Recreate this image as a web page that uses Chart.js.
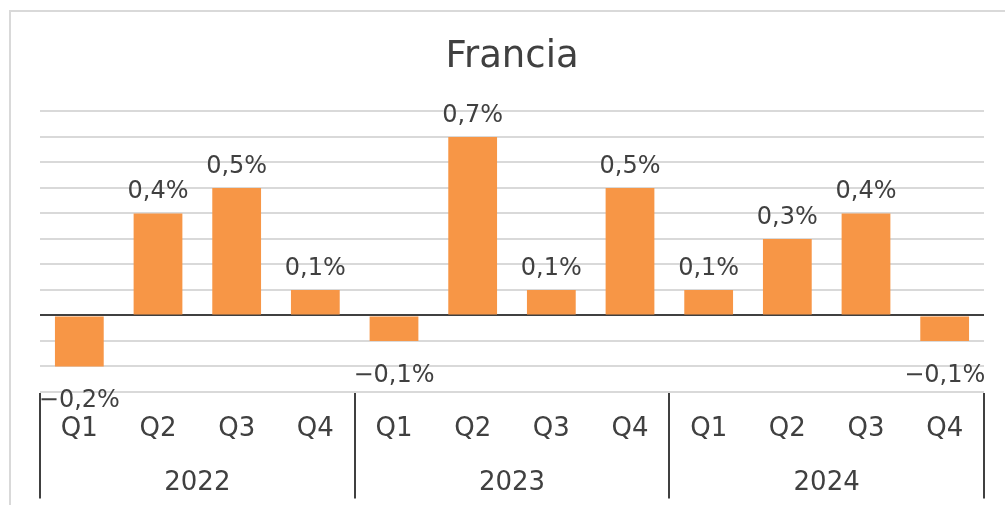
<!DOCTYPE html>
<html>
<head>
<meta charset="utf-8">
<script src="https://cdn.jsdelivr.net/npm/chart.js@4/dist/chart.umd.min.js"></script>
<style>
  html, body { margin: 0; padding: 0; background: #fff; }
  #wrap { position: relative; width: 1005px; height: 505px; overflow: hidden; }
  #frame { position: absolute; left: 9px; top: 10px; width: 1100px; height: 600px; border: 2px solid #d9d9d9; box-sizing: border-box; }
  canvas { position: absolute; left: 0; top: 0; }
</style>
</head>
<body>
<div id="wrap">
  <div id="frame"></div>
  <canvas id="c" width="1005" height="505"></canvas>
</div>
<script>
const title = 'Francia';
const quarters = ['Q1', 'Q2', 'Q3', 'Q4', 'Q1', 'Q2', 'Q3', 'Q4', 'Q1', 'Q2', 'Q3', 'Q4'];
const years = ['2022', '2023', '2024'];
const values = [-0.2, 0.4, 0.5, 0.1, -0.1, 0.7, 0.1, 0.5, 0.1, 0.3, 0.4, -0.1];
const yMin = -0.3, yMax = 0.8, yStep = 0.1;

const FONT = "'DejaVu Sans', Verdana, sans-serif";
const TEXT = '#404040';

function fmt(v) {
  const s = Math.abs(v).toFixed(1).replace('.', ',') + '%';
  return (v < 0 ? '\u2212' : '') + s;
}

const labelPlugin = {
  id: 'valueLabels',
  afterDatasetsDraw(chart) {
    const ctx = chart.ctx;
    const meta = chart.getDatasetMeta(0);
    ctx.save();
    ctx.font = '24px ' + FONT;
    ctx.fillStyle = TEXT;
    ctx.textAlign = 'center';
    ctx.textBaseline = 'alphabetic';
    meta.data.forEach((bar, i) => {
      const v = values[i];
      const y = v >= 0 ? bar.y - 15 : bar.y + 41;
      ctx.fillText(fmt(v), bar.x, y);
    });
    ctx.restore();
  }
};

const sepPlugin = {
  id: 'groupSeparators',
  afterDraw(chart) {
    const x = chart.scales.x, x2 = chart.scales.x2;
    const ctx = chart.ctx;
    const edges = [x.left];
    for (let i = 4; i < quarters.length; i += 4) {
      edges.push((x.getPixelForValue(i - 1) + x.getPixelForValue(i)) / 2);
    }
    edges.push(x.right);
    ctx.save();
    ctx.strokeStyle = '#404040';
    ctx.lineWidth = 2;
    edges.forEach(px => {
      ctx.beginPath();
      ctx.moveTo(Math.round(px), x.top + 1);
      ctx.lineTo(Math.round(px), x2.bottom);
      ctx.stroke();
    });
    ctx.restore();
  }
};

new Chart(document.getElementById('c'), {
  type: 'bar',
  data: {
    labels: quarters,
    datasets: [{
      data: values,
      backgroundColor: '#F79646',
      borderWidth: 0,
      barPercentage: 0.62,
      categoryPercentage: 1.0
    }]
  },
  options: {
    responsive: false,
    animation: false,
    devicePixelRatio: 1,
    layout: { padding: { left: 40, right: 21, top: 35, bottom: 6.6 } },
    plugins: {
      legend: { display: false },
      tooltip: { enabled: false },
      title: {
        display: true,
        text: title,
        color: TEXT,
        font: { family: FONT, size: 37, weight: 'normal' },
        padding: { top: 0, bottom: 32 }
      }
    },
    scales: {
      y: {
        min: yMin,
        max: yMax,
        ticks: { display: false, stepSize: yStep },
        border: { display: false },
        grid: {
          drawTicks: false,
          color: c => Math.abs(c.tick.value) < 1e-9 ? '#404040' : '#d9d9d9',
          lineWidth: 2
        }
      },
      x: {
        position: 'bottom',
        grid: { display: false, drawTicks: false },
        border: { display: false },
        ticks: { color: TEXT, font: { family: FONT, size: 26 }, padding: 22, maxRotation: 0, autoSkip: false }
      },
      x2: {
        type: 'category',
        position: 'bottom',
        labels: years,
        offset: true,
        grid: { display: false, drawTicks: false },
        border: { display: false },
        ticks: { color: TEXT, font: { family: FONT, size: 26 }, padding: 0, maxRotation: 0 }
      }
    }
  },
  plugins: [labelPlugin, sepPlugin]
});
</script>
</body>
</html>
